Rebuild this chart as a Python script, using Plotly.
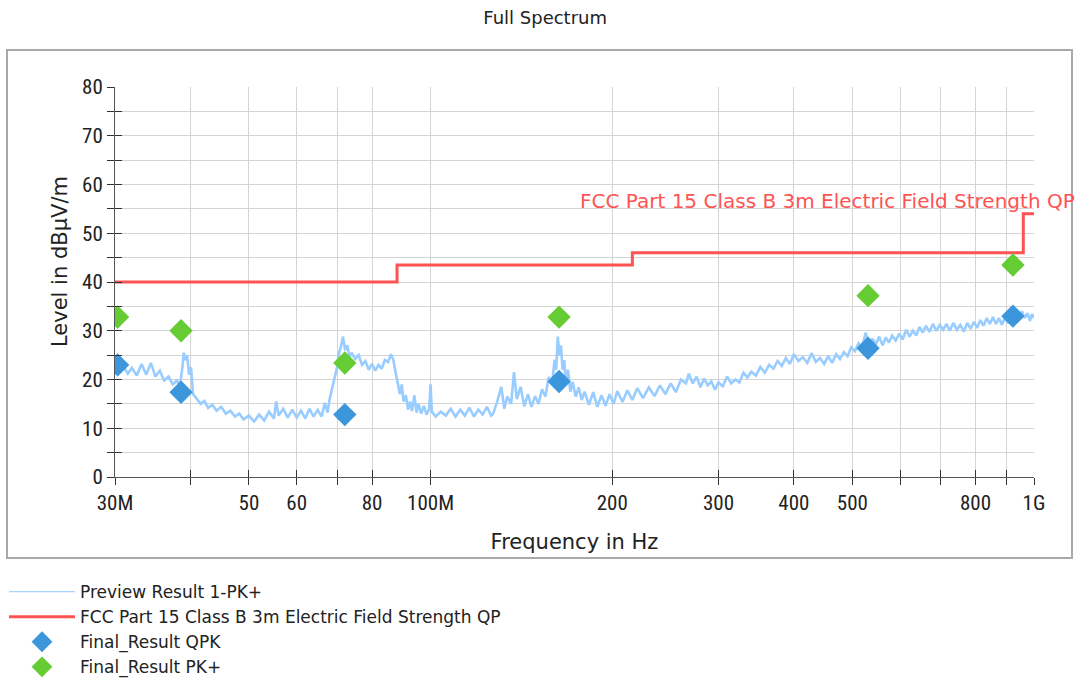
import plotly.graph_objects as go

# ---------------- data ----------------
spectrum_freq_mhz = [
    30.0, 30.5, 31.0, 31.5, 32.0, 32.6, 33.2, 33.8, 34.4, 35.0, 35.6, 36.2, 36.8, 37.4, 38.0, 38.4,
    38.8, 39.0, 39.2, 39.5, 39.8, 40.1, 40.4, 41.0, 41.6, 42.2, 42.8, 43.5, 44.2, 45.0, 45.8, 46.6,
    47.4, 48.2, 49.0, 50.0, 51.0, 52.0, 53.0, 54.0, 55.0, 55.5, 56.0, 57.0, 58.0, 59.0, 60.0, 61.0,
    62.0, 63.0, 64.0, 65.0, 66.0, 66.8, 67.5, 68.0, 68.8, 69.4, 70.0, 70.5, 71.0, 71.6, 72.2, 72.8,
    73.4, 74.0, 75.0, 76.0, 77.0, 78.0, 79.0, 80.0, 81.0, 82.0, 83.0, 84.0, 85.0, 86.0, 86.8, 87.5,
    88.2, 89.0, 89.6, 90.2, 91.0, 91.8, 92.5, 93.2, 94.0, 94.8, 95.5, 96.5, 97.5, 98.5, 99.5, 100.0,
    100.5, 102, 104, 106, 108, 110, 112, 114, 116, 118, 120, 122, 124, 126, 127, 129,
    131, 132.5, 134, 136, 137.5, 139, 141, 143, 145, 147, 149, 151, 153, 155, 157, 159,
    160.5, 161.5, 162.5, 163.5, 164.5, 165.5, 166.5, 167.5, 169, 170.5, 172, 174, 176, 178, 180, 183,
    186, 189, 192, 195, 198, 201, 204, 208, 212, 216, 220, 225, 230, 235, 240, 245,
    250, 255, 260, 265, 268, 272, 276,
    280, 284, 288, 292, 296, 300, 305, 310, 315, 320, 325, 330, 335, 340, 346, 352,
    358, 364, 370, 376, 382, 388, 394, 400, 407, 414, 421, 428, 435, 442, 449, 456,
    463, 470, 477, 484, 491, 498, 505, 512, 519, 526, 533, 540, 547, 554, 561, 568,
    575, 582, 590, 598, 606, 614, 622, 630, 638, 646, 654, 662, 671, 680, 689, 698,
    707, 716, 725, 735, 745, 755, 765, 775, 785, 795, 805, 815, 825, 835, 845, 855,
    865, 875, 885, 895, 905, 915, 925, 935, 945, 955, 965, 975, 985, 992, 1000,
]
spectrum_level = [
    23.0, 21.5, 22.6, 21.2, 22.4, 20.8, 23.2, 21.0, 23.4, 20.6, 21.8, 19.8, 20.6, 19.0, 19.8, 18.5,
    22.5, 25.5, 24.0, 25.0, 21.0, 22.5, 17.0, 16.0, 15.0, 15.6, 14.2, 14.8, 13.6, 14.4, 13.0, 13.6,
    12.4, 13.0, 11.8, 12.6, 11.4, 12.8, 11.6, 13.4, 12.0, 15.5, 12.6, 14.0, 12.2, 13.8, 12.2, 13.6,
    12.0, 14.0, 12.4, 13.8, 12.4, 15.2, 13.2, 15.8, 18.5, 21.0, 22.5, 25.5, 26.5, 28.8, 26.0, 27.0,
    24.5, 25.5, 24.2, 25.0, 23.0, 23.8, 22.0, 23.2, 21.8, 23.0, 22.2, 24.0, 23.6, 25.2, 24.0, 21.5,
    19.5, 17.0, 19.0, 15.5, 16.8, 13.8, 15.5, 13.5, 16.8, 13.2, 15.0, 13.0, 14.6, 12.8, 14.0, 19.0,
    13.4, 12.4, 13.4, 12.6, 14.0, 12.4, 13.8, 12.6, 14.2, 12.4, 13.8, 12.8, 14.4, 12.6, 13.0, 15.5,
    18.5, 14.0, 16.5, 15.0, 21.5, 16.0, 18.5, 14.5, 17.0, 14.4, 16.6, 15.0, 18.0, 16.5, 20.5, 19.0,
    24.0, 22.0, 28.8, 25.0, 27.0, 22.0, 24.0, 19.5, 22.0, 17.5, 19.5, 16.5, 18.4, 15.8, 17.5, 14.8,
    17.4, 14.4, 16.8, 14.6, 17.0, 15.0, 17.6, 15.4, 17.8, 15.8, 18.2, 16.2, 18.4, 16.6, 18.8, 17.0,
    19.2, 17.4, 20.0, 19.2, 21.2, 19.2, 20.6,
    18.4, 20.2, 18.8, 19.6, 17.9, 19.4, 18.6, 20.6, 19.2, 20.0, 19.4, 21.4, 20.4, 21.6, 20.8, 22.6,
    21.4, 23.0, 22.2, 23.8, 22.8, 24.4, 23.2, 25.2, 23.8, 24.6, 23.4, 25.4, 23.6, 24.4, 23.2, 24.8,
    23.4, 25.2, 24.2, 25.6, 24.8, 26.6, 25.8, 27.4, 26.6, 29.6, 27.0, 28.4, 27.2, 28.8, 27.0, 28.6,
    27.6, 29.0, 28.0, 29.4, 28.2, 30.2, 28.8, 30.0, 29.0, 30.8, 29.6, 31.0, 29.8, 31.4, 30.0, 31.2,
    30.2, 31.4, 30.0, 31.6, 30.2, 31.2, 29.8, 31.6, 30.4, 31.8, 30.6, 32.2, 31.0, 32.6, 31.4, 32.8,
    31.4, 32.6, 31.2, 32.8, 31.6, 33.2, 32.0, 33.8, 32.4, 34.0, 32.6, 33.6, 32.0, 33.4, 32.6,
]

limit_freq_mhz = [30, 88, 216, 960, 1000]
limit_level = [40.0, 43.5, 46.0, 54.0, 54.0]

final_freq_mhz = [30.3, 38.6, 72.1, 163.3, 530.8, 922.7]
final_qpk = [23.0, 17.4, 12.8, 19.6, 26.4, 33.0]
final_pk = [32.8, 30.0, 23.4, 32.8, 37.2, 43.5]

x_tick_mhz = [30, 40, 50, 60, 70, 80, 100, 200, 300, 400, 500, 600, 700, 800, 900, 1000]
x_tick_text = ["30M", "", "50", "60", "", "80", "100M", "200", "300", "400", "500", "", "", "800", "", "1G"]

limit_name = "FCC Part 15 Class B 3m Electric Field Strength QP"
preview_name = "Preview Result 1-PK+"

# ---------------- figure ----------------
hz = 1e6
fig = go.Figure()

fig.add_trace(go.Scatter(
    x=[f * hz for f in spectrum_freq_mhz], y=spectrum_level, mode="lines",
    name=preview_name, legendgroup="preview", showlegend=False,
    line=dict(color="#99CCFF", width=2.6),
))
# legend entry for the preview trace (thin line, as in the reference legend)
fig.add_trace(go.Scatter(
    x=[None], y=[None], mode="lines", name=preview_name, legendgroup="preview",
    line=dict(color="#A8D4FF", width=1.2),
))
fig.add_trace(go.Scatter(
    x=[f * hz for f in limit_freq_mhz], y=limit_level, mode="lines",
    name=limit_name, line=dict(color="#FF5252", width=3, shape="hv"),
))
fig.add_trace(go.Scatter(
    x=[f * hz for f in final_freq_mhz], y=final_qpk, mode="markers",
    name="Final_Result QPK", marker=dict(symbol="diamond", size=18, color="#3C96DC"),
))
fig.add_trace(go.Scatter(
    x=[f * hz for f in final_freq_mhz], y=final_pk, mode="markers",
    name="Final_Result PK+", marker=dict(symbol="diamond", size=18, color="#66CC33"),
))
# helper trace so the overlay axes (inner half of crossing ticks) are drawn
fig.add_trace(go.Scatter(
    x=[f * hz for f in final_freq_mhz], y=final_pk, mode="markers", xaxis="x2", yaxis="y2",
    marker=dict(opacity=0), showlegend=False, hoverinfo="skip",
))

tick_font = dict(family="Liberation Sans Narrow, Roboto Condensed, Liberation Sans, Arial", size=21, color="#222222")
text_font = "DejaVu Sans, Liberation Sans"
xrange = [7.4771212547, 9.0]
tickvals = [f * hz for f in x_tick_mhz]

fig.update_layout(
    width=1086, height=682,
    margin=dict(l=115, r=52, t=87, b=205, autoexpand=False),
    paper_bgcolor="white", plot_bgcolor="white",
    title=dict(text="Full Spectrum", x=0.502, xref="container", xanchor="center",
               y=1 - 18 / 682, yref="container", yanchor="middle",
               font=dict(family=text_font, size=18, color="#222222")),
    xaxis=dict(type="log", range=xrange, tickvals=tickvals, ticktext=x_tick_text, tickangle=0,
               showgrid=True, gridcolor="#D4D4D4", gridwidth=1, zeroline=False,
               showline=True, linecolor="#555555", linewidth=1,
               ticks="outside", ticklen=7, tickcolor="#333333", tickfont=tick_font,
               title=dict(text="Frequency in Hz", standoff=20,
                          font=dict(family=text_font, size=21, color="#222222"))),
    xaxis2=dict(type="log", range=xrange, overlaying="x", anchor="y", side="bottom",
                tickvals=tickvals, ticktext=["" for _ in tickvals], showgrid=False, zeroline=False,
                ticks="inside", ticklen=7, tickcolor="#333333", showline=False),
    yaxis=dict(range=[0, 80], dtick=10, showgrid=True, gridcolor="#D4D4D4", gridwidth=1,
               zeroline=False, showline=True, linecolor="#555555", linewidth=1,
               ticks="outside", ticklen=7, tickcolor="#333333", tickfont=tick_font,
               minor=dict(dtick=5, showgrid=True, gridcolor="#D4D4D4", ticks="outside",
                          ticklen=7, tickcolor="#333333")),
    yaxis2=dict(range=[0, 80], dtick=10, overlaying="y", anchor="x", side="left",
                showgrid=False, zeroline=False, showticklabels=False,
                ticks="inside", ticklen=7, tickcolor="#333333",
                minor=dict(dtick=5, ticks="inside", ticklen=7, tickcolor="#333333")),
    showlegend=True,
    legend=dict(xref="container", yref="container", x=4 / 1086, y=1 - 574 / 682,
                xanchor="left", yanchor="top", itemwidth=66, tracegroupgap=0,
                font=dict(family=text_font, size=17, color="#222222"),
                bgcolor="rgba(0,0,0,0)"),
)

# y-axis title as rotated text
fig.add_annotation(text="Level in dBµV/m", xref="paper", yref="paper",
                   x=(60 - 115) / 919, y=(477 - 262) / 390, xanchor="center", yanchor="middle",
                   textangle=-90, showarrow=False,
                   font=dict(family=text_font, size=21, color="#222222"))
# limit line label
fig.add_annotation(text=limit_name, xref="paper", yref="y",
                   x=(578 - 115) / 919, y=56.6, xanchor="left", yanchor="middle", showarrow=False,
                   font=dict(family=text_font, size=20, color="#FF5252"))

# outer panel frame
fig.add_shape(type="rect", xref="paper", yref="paper",
              x0=(7 - 115) / 919, x1=(1072 - 115) / 919,
              y0=(477 - 558) / 390, y1=(477 - 50) / 390,
              line=dict(color="#A8A8A8", width=2), layer="below")

fig.write_html("out.html")
